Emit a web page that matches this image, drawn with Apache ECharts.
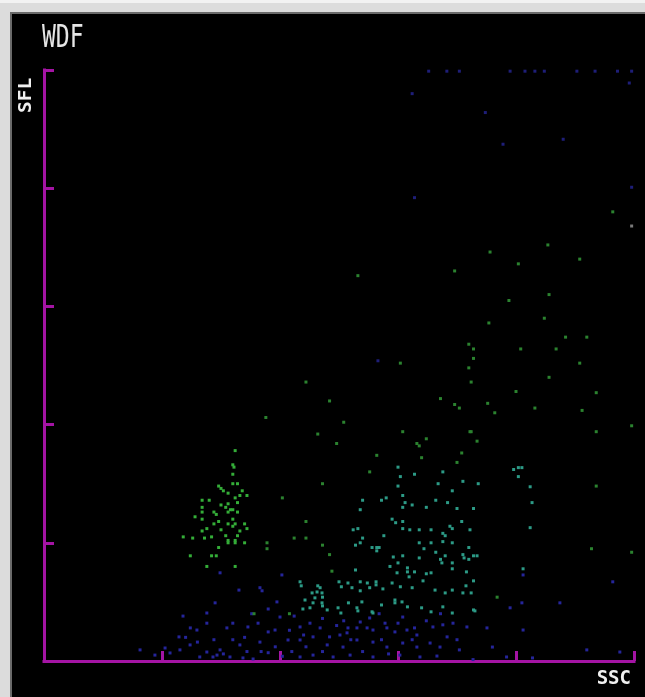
<!DOCTYPE html>
<html>
<head>
<meta charset="utf-8">
<script src="https://cdn.jsdelivr.net/npm/echarts@6/dist/echarts.min.js"></script>
<style>
  html, body { margin: 0; padding: 0; background: #000; }
  #chart { width: 645px; height: 697px; }
</style>
</head>
<body>
<div id="chart"></div>
<script>
// WDF scattergram: side scatter (SSC) vs side fluorescence (SFL), channels 0-250
const title = 'WDF';
const xName = 'SSC';
const yName = 'SFL';
const axisMax = 250;
const axisStep = 50;

// lymphocyte-like cluster (bright green)
const greenCluster = [
  [81,89],[80,83],[80.5,82],[80,79],[80,75],[82,75],[74,74],[75,73],[76,72],[84,72],
  [78,71],[83,70],[86,70],[81,69],[67,68],[70,68],[82,67],[78,66.5],[75,66],[77,65],
  [79,64],[80,64],[82,63],[67,65],[72,63],[73,62],[78,63],[67,63],[64,61],[67,60],
  [80,60],[74,59],[72,58],[81,58],[85,58],[78,58],[80,57],[86,56],[69,56],[75,55.5],
  [67,55],[83,55],[82,53],[77,53],[59,52.5],[63,52],[68,52],[71,52.5],[78,51],[81,51],
  [78,50],[81,50],[85,50],[74,48],[62,44.5],[71,44.5],[73,44.5],[69,40],[81,40]
];

// sparse green events across the upper field
const greenScatter = [
  [94.5,50],[94.5,47.5],[111,118],[94,103],[121,110],[127,101],[116,96],[124,92],
  [118,75],[101,69],[111,59],[106,52],[111,52],[118,49],[121,45],[122,38],[104,20],[89,20],
  [133,163],[151,126],[152,97],[158,92],[162,94],[159,91],[180.5,97],[183.5,93],[177,88],
  [175,84],[141,87],[160,86],[138,80],[241,190],[213.5,176],[189,173],[201,168],
  [227,170],[174,165],[197,152.5],[214,155],[188.5,143],[212,145],[221,137],[230,137],
  [180,134],[182,132],[182,128],[202,132],[217,132],[180,124],[227,126],[181,118],
  [214,120],[200,114],[234,113.5],[168,111],[188,109],[174,108.5],[176,107],[208,107],
  [191,105],[228,106],[181,97],[234,97],[249,99.5],[234,74],[249,46],[232,47.5],[192,27]
];

// a faint grey event near the upper right
const greyPoints = [[249,184]];

// neutrophil-like population (cyan)
const cyanPoints = [
  [150,82],[157,79],[151,78],[169,80],[177.5,76],[167,75],[184,75],[150,74],[173,72],
  [135,68],[143,68],[145,69],[152,70],[153,67],[156,66],[166,68],[171,67],[152,65],
  [162,65],[134,64],[175,64.5],[182,64.5],[147.5,60],[149,58.5],[152,59],[177,59],
  [172,57],[173,56],[131,55.5],[133,56],[152,56],[155,55.5],[159,55.5],[164,55.5],
  [169,54],[170,53],[144,53],[180.5,55.5],[135,52],[134,50],[132,49],[139,48],[141,48],
  [142,48],[141,46.6],[159,50],[161,47.5],[164,50],[169,50.5],[173,50],[180,48],
  [148,44],[152,44.5],[159,43.6],[166,46],[168,43],[170,44.5],[177.5,45],[178,43.6],
  [180,43],[182,44.5],[183.5,44.5],[132,38.5],[146.6,40],[150,41.5],[154,39.4],
  [154,37.7],[157,37.7],[162,36.9],[164,37.3],[168.6,41.5],[173,41.5],[173,39],
  [179,37.7],[149.6,37.3],[154.7,35.6],[160.6,33.9],[182,33.9],[108.5,33.5],[109,31.8],
  [116,31.8],[117,31],[115.7,29.2],[113.6,28.8],[117.8,28.8],[125,33.5],[128.8,33],
  [130.5,31],[126,31.4],[134,33.5],[137,33],[138,31],[140.7,33.5],[140.7,32.2],
  [134,29.7],[143.6,30.5],[151,31.4],[156,31],[147.5,33],[165.7,30],[170,28.8],[173,30],
  [177.5,28.8],[178.8,31.8],[181,28.8],[118,27],[114.8,26.7],[110.6,25.8],[114,24.6],
  [117.8,24.6],[118,23.3],[112.7,22.5],[120,21.6],[109.7,22],[124.6,22.5],[125.8,20.3],
  [129,24.6],[134.7,25],[139,20.8],[139.4,20.3],[143,23.7],[148.7,25.8],[148.7,24.6],
  [151.7,25],[154,22.9],[160,22.5],[164,20.8],[169,22.9],[173,20.3],[182,21.6],
  [132.6,22.5],[133,21.2],[199,81],[201,81.8],[202.5,81.8],[201,78],[206,73.7],
  [206.8,67],[206,56.4],[203,39],[182.6,21.2]
];

// faint events along the top edge of the field (saturated SFL)
const blueTop = [
  [163,249.5],[170.7,249.5],[176,249.5],[197.5,249.5],[203.8,249.5],[208,249.5],
  [212,249.5],[225.8,249.5],[233.5,249.5],[243,249.5],[249,249.5],[248,244.5],
  [156,240],[187,232],[194.5,218.6],[220,220.7],[157,196],[249,200.4],[141.5,127]
];

// debris / low-fluorescence events (blue)
const bluePoints = [
  [82.6,30],[92.4,29.7],[72.5,24.6],[69,20.3],[98.7,25],[100,18.6],[90.7,16],[86.4,14.4],
  [80,16],[77.5,14],[95,12.3],[97.9,13.1],[108.5,14.4],[112.7,16],[117,14],[114,10.2],
  [108.5,8.9],[103.4,8.9],[121,10.2],[125.4,11],[128.8,14],[132.6,14],[136.9,14],
  [139.4,13.1],[145.3,14],[148.7,12.3],[153.8,13.1],[158,11],[164.8,14.4],[169,15.3],
  [134,16.5],[138,18.2],[144.5,16],[152,18.6],[120,6.8],[126.7,5.9],[132.6,8.9],
  [139.4,8],[145.3,5.9],[152,7.6],[158,5.9],[163.6,7.6],[167.8,5.9],[83,6.8],[91.5,8],
  [74.6,4.7],[69,3.8],[71.6,1.7],[78.8,1.7],[84.3,1.3],[88.6,0.85],[108.5,1.7],[114,2.5],
  [122.5,1.7],[129.7,2.5],[139.4,1.7],[150.8,2.5],[159.3,1.7],[166.5,2.1],[58.9,19],
  [57.2,10.2],[64.8,13.1],[69,16],[74.6,37.3],[57.6,4.7],[53.4,3.4],[73.3,2.5],
  [173.3,16],[179.2,14.4],[170.8,10.2],[187.7,14],[197.5,22.5],[202.5,24.6],[218.6,24.6],
  [203,13.1],[190,5.9],[241,33.5],[230,4.7],[176,4.7],[181.8,0.6],[196,1.7],[207,1.3],
  [244,3.8],[203,36.4],[91.5,31],[100.8,36.4],[128.4,11.9],[40.7,4.7],[47,2.5],
  [51.3,5.5],[61.9,6.8],[66,1.7],[76,3],[95,3.5],[101,2],[105,4],
  [60,10],[65,8],[85,10],[88,20],[95,22],[104,13],[106,19],[110,11],[118,18],[124,15],
  [130,9],[135,4],[143,9],[150,16],[156,9],[162,17],[168,20],[146,3],[118,4],[98,6],
  [86,4],[80,9],[72,9],[62,14],[92,4],[111,6],[127,17],[157,14],[142,20],[175,9]
];

const chart = echarts.init(document.getElementById('chart'), null, { renderer: 'canvas' });

const axisColor = '#a414a4';
function axisStyle() {
  return {
    type: 'value',
    min: 0,
    max: axisMax,
    interval: axisStep,
    axisLine: { show: true, onZero: false, lineStyle: { color: axisColor, width: 3, cap: 'square' } },
    axisTick: { show: true, inside: true, length: 10, lineStyle: { color: axisColor, width: 3 } },
    axisLabel: { show: false },
    splitLine: { show: false }
  };
}

function dots(name, data, color, z) {
  return {
    name: name,
    type: 'scatter',
    data: data,
    symbol: 'rect',
    symbolSize: 3,
    itemStyle: { color: color, opacity: 1 },
    z: z,
    silent: true,
    animation: false
  };
}

chart.setOption({
  backgroundColor: '#000',
  animation: false,
  grid: { left: 44, right: 11, top: 70, bottom: 36, containLabel: false },
  xAxis: axisStyle(),
  yAxis: axisStyle(),
  graphic: [
    // light bevel along the top and left edges of the display window
    { type: 'rect', left: 0, top: 0, shape: { width: 645, height: 12 }, style: { fill: '#dcdcdc' }, z: 0 },
    { type: 'rect', left: 0, top: 0, shape: { width: 10, height: 697 }, style: { fill: '#dcdcdc' }, z: 0 },
    { type: 'rect', left: 0, top: 0, shape: { width: 645, height: 3 }, style: { fill: '#f2f2f2' }, z: 0 },
    { type: 'rect', left: 10, top: 12, shape: { width: 2, height: 685 }, style: { fill: '#6a6a6a' }, z: 0 },
    { type: 'rect', left: 10, top: 12, shape: { width: 635, height: 2 }, style: { fill: '#6a6a6a' }, z: 0 },
    {
      type: 'text', left: 42, top: 23, z: 10,
      scaleX: 0.72,
      style: { text: title, fill: '#e6e6e6', font: '32px "DejaVu Sans Mono"' }
    },
    {
      type: 'text', x: 17, y: 113, rotation: Math.PI / 2, z: 10,
      style: { text: yName, fill: '#f0f0f0', font: 'bold 18px "DejaVu Sans Mono"', textVerticalAlign: 'top' },
      scaleX: 1.08
    },
    {
      type: 'text', right: 14, top: 670, z: 10,
      style: { text: xName, fill: '#f0f0f0', font: 'bold 19px "DejaVu Sans Mono"' }
    }
  ],
  series: [
    dots('blueTop', blueTop, '#1e1e78', 2),
    dots('blue', bluePoints, '#25259a', 2),
    dots('grey', greyPoints, '#7a7a7a', 3),
    dots('cyan', cyanPoints, '#2c9a86', 3),
    dots('greenScatter', greenScatter, '#2b822f', 4),
    dots('greenCluster', greenCluster, '#34ad38', 5)
  ]
});
</script>
</body>
</html>
